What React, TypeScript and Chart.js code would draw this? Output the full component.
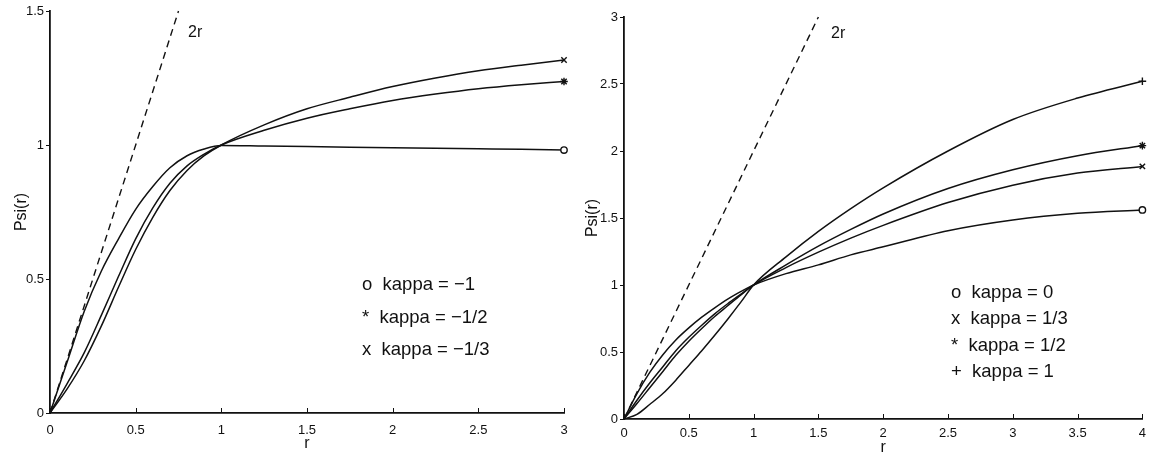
import React, { useEffect, useRef } from 'react';
import { Chart, registerables } from 'chart.js';

Chart.register(...registerables);

// ---- Left panel data (kappa < 0) ----
const leftR = [0, 0.1, 0.2, 0.3, 0.4, 0.5, 0.6, 0.7, 0.8, 0.9, 1.0, 1.25, 1.5, 1.75, 2.0, 2.25, 2.5, 2.75, 3.0];
const leftKappaM1 = [0, 0.19, 0.38, 0.53, 0.65, 0.76, 0.845, 0.915, 0.96, 0.985, 0.998, 0.996, 0.994, 0.992, 0.99, 0.988, 0.986, 0.984, 0.981];
const leftKappaM1_2 = [0, 0.11, 0.225, 0.365, 0.51, 0.65, 0.765, 0.857, 0.922, 0.966, 1.0, 1.055, 1.1, 1.135, 1.166, 1.19, 1.21, 1.225, 1.237];
const leftKappaM1_3 = [0, 0.09, 0.195, 0.325, 0.47, 0.61, 0.73, 0.83, 0.905, 0.96, 1.0, 1.075, 1.135, 1.178, 1.218, 1.25, 1.277, 1.298, 1.317];
const leftTangentR = [0, 0.75];
const leftTangent = [0, 1.5];
const leftXTicks = [0, 0.5, 1, 1.5, 2, 2.5, 3];
const leftYTicks = [0, 0.5, 1, 1.5];

// ---- Right panel data (kappa >= 0) ----
const rightR = [0, 0.1, 0.2, 0.3, 0.4, 0.5, 0.6, 0.7, 0.8, 0.9, 1.0, 1.25, 1.5, 1.75, 2.0, 2.5, 3.0, 3.5, 4.0];
const rightKappa0 = [0, 0.19, 0.35, 0.48, 0.59, 0.68, 0.76, 0.83, 0.895, 0.95, 1.0, 1.085, 1.15, 1.225, 1.285, 1.405, 1.485, 1.535, 1.56];
const rightKappa1_3 = [0, 0.14, 0.27, 0.39, 0.51, 0.61, 0.70, 0.785, 0.86, 0.93, 1.0, 1.13, 1.245, 1.35, 1.445, 1.615, 1.745, 1.835, 1.885];
const rightKappa1_2 = [0, 0.115, 0.235, 0.355, 0.475, 0.58, 0.675, 0.765, 0.845, 0.925, 1.0, 1.15, 1.29, 1.415, 1.53, 1.72, 1.86, 1.965, 2.04];
const rightKappa1 = [0, 0.035, 0.11, 0.19, 0.29, 0.40, 0.51, 0.625, 0.745, 0.87, 1.0, 1.21, 1.4, 1.57, 1.725, 2.0, 2.235, 2.395, 2.52];
const rightTangentR = [0, 1.5];
const rightTangent = [0, 3];
const rightXTicks = [0, 0.5, 1, 1.5, 2, 2.5, 3, 3.5, 4];
const rightYTicks = [0, 0.5, 1, 1.5, 2, 2.5, 3];

const leftLegend = ['o  kappa = −1', '*  kappa = −1/2', 'x  kappa = −1/3'];
const rightLegend = ['o  kappa = 0', 'x  kappa = 1/3', '*  kappa = 1/2', '+  kappa = 1'];

const FONT = 'Liberation Sans, Arial, Helvetica, sans-serif';
const INK = '#111';

function pts(xs: number[], ys: number[]) {
  return xs.map((x, i) => ({ x, y: ys[i] }));
}

function curve(xs: number[], ys: number[], marker: string, radius: number, fill: string) {
  const last = xs.length - 1;
  return {
    data: pts(xs, ys),
    borderColor: INK,
    borderWidth: 1.5,
    cubicInterpolationMode: 'monotone' as const,
    pointStyle: marker,
    pointRadius: (c: any) => (c.dataIndex === last ? radius : 0),
    pointBorderColor: INK,
    pointBackgroundColor: fill,
    pointBorderWidth: 1.4,
    pointHoverRadius: 0,
    clip: false as any,
  };
}

function dashed(xs: number[], ys: number[]) {
  return {
    data: pts(xs, ys),
    borderColor: INK,
    borderWidth: 1.4,
    borderDash: [7, 5],
    pointRadius: 0,
    clip: false as any,
  };
}

const innerXTicks = {
  id: 'innerXTicks',
  afterDraw(chart: any) {
    const { ctx, chartArea, scales } = chart;
    const xs = scales.x;
    ctx.save();
    ctx.strokeStyle = INK;
    ctx.lineWidth = 1;
    xs.ticks.forEach((t: any) => {
      const px = Math.round(xs.getPixelForValue(t.value)) + 0.5;
      ctx.beginPath();
      ctx.moveTo(px, chartArea.bottom);
      ctx.lineTo(px, chartArea.bottom - 5);
      ctx.stroke();
    });
    ctx.restore();
  },
};

interface PanelCfg {
  datasets: any[];
  xMax: number;
  yMax: number;
  xTicks: number[];
  yTicks: number[];
  yWidth: number;
  xHeight: number;
  padRight: number;
  padTop: number;
  yTitlePad: number;
  xTitlePad: number;
  xTickPad: number;
}

function makeChart(canvas: HTMLCanvasElement, p: PanelCfg) {
  return new Chart(canvas, {
    type: 'line',
    data: { datasets: p.datasets },
    plugins: [innerXTicks],
    options: {
      animation: false,
      responsive: false,
      maintainAspectRatio: false,
      events: [],
      layout: { padding: { left: 0, right: p.padRight, top: p.padTop, bottom: 0 } },
      plugins: { legend: { display: false }, tooltip: { enabled: false } },
      scales: {
        x: {
          type: 'linear',
          min: 0,
          max: p.xMax,
          afterBuildTicks: (s: any) => {
            s.ticks = p.xTicks.map((v) => ({ value: v }));
          },
          afterFit: (s: any) => {
            s.height = p.xHeight;
          },
          ticks: {
            color: INK,
            font: { family: FONT, size: 13 },
            padding: p.xTickPad,
            maxRotation: 0,
            autoSkip: false,
            callback: (v: any) => String(v),
          },
          grid: { display: true, drawOnChartArea: false, drawTicks: false },
          border: { display: true, color: INK, width: 1.8 },
          title: {
            display: true,
            text: 'r',
            color: INK,
            font: { family: FONT, size: 16 },
            padding: { top: 0, bottom: p.xTitlePad },
          },
        },
        y: {
          type: 'linear',
          min: 0,
          max: p.yMax,
          afterBuildTicks: (s: any) => {
            s.ticks = p.yTicks.map((v) => ({ value: v }));
          },
          afterFit: (s: any) => {
            s.width = p.yWidth;
          },
          ticks: {
            color: INK,
            font: { family: FONT, size: 13 },
            padding: 2,
            autoSkip: false,
            callback: (v: any) => String(v),
          },
          grid: { display: true, drawOnChartArea: false, drawTicks: true, tickLength: 4, color: INK },
          border: { display: true, color: INK, width: 1.8 },
          title: {
            display: true,
            text: 'Psi(r)',
            color: INK,
            font: { family: FONT, size: 16 },
            padding: { top: p.yTitlePad, bottom: 0 },
          },
        },
      },
    } as any,
  });
}

const textStyle: React.CSSProperties = {
  position: 'absolute',
  fontFamily: FONT,
  fontSize: 18.5,
  color: INK,
  whiteSpace: 'pre',
  lineHeight: '20px',
};

export default function App() {
  const leftRef = useRef<HTMLCanvasElement>(null);
  const rightRef = useRef<HTMLCanvasElement>(null);

  useEffect(() => {
    const left = makeChart(leftRef.current!, {
      datasets: [
        dashed(leftTangentR, leftTangent),
        curve(leftR, leftKappaM1, 'circle', 3.2, '#fff'),
        curve(leftR, leftKappaM1_2, 'star', 3.8, INK),
        curve(leftR, leftKappaM1_3, 'crossRot', 3.8, INK),
      ],
      xMax: 3,
      yMax: 1.5,
      xTicks: leftXTicks,
      yTicks: leftYTicks,
      yWidth: 50,
      xHeight: 47,
      padRight: 16,
      padTop: 11,
      yTitlePad: 12,
      xTitlePad: 7,
      xTickPad: 10,
    });
    const right = makeChart(rightRef.current!, {
      datasets: [
        dashed(rightTangentR, rightTangent),
        curve(rightR, rightKappa0, 'circle', 3.2, '#fff'),
        curve(rightR, rightKappa1_3, 'crossRot', 3.8, INK),
        curve(rightR, rightKappa1_2, 'star', 3.8, INK),
        curve(rightR, rightKappa1, 'cross', 3.8, INK),
      ],
      xMax: 4,
      yMax: 3,
      xTicks: rightXTicks,
      yTicks: rightYTicks,
      yWidth: 44,
      xHeight: 41,
      padRight: 10,
      padTop: 17,
      yTitlePad: 3,
      xTitlePad: 3,
      xTickPad: 7,
    });
    return () => {
      left.destroy();
      right.destroy();
    };
  }, []);

  return (
    <div style={{ position: 'absolute', left: 0, top: 0, width: 1153, height: 460, background: '#fff', overflow: 'hidden' }}>
      <canvas ref={leftRef} width={580} height={460} style={{ position: 'absolute', left: 0, top: 0, width: 580, height: 460 }} />
      <canvas ref={rightRef} width={573} height={460} style={{ position: 'absolute', left: 580, top: 0, width: 573, height: 460 }} />
      <div style={{ ...textStyle, left: 188, top: 22, fontSize: 16 }}>2r</div>
      <div style={{ ...textStyle, left: 831, top: 23, fontSize: 16 }}>2r</div>
      {leftLegend.map((t, i) => (
        <div key={t} style={{ ...textStyle, left: 362, top: 274 + i * 32.5 }}>{t}</div>
      ))}
      {rightLegend.map((t, i) => (
        <div key={t} style={{ ...textStyle, left: 951, top: 282 + i * 26.3 }}>{t}</div>
      ))}
    </div>
  );
}
